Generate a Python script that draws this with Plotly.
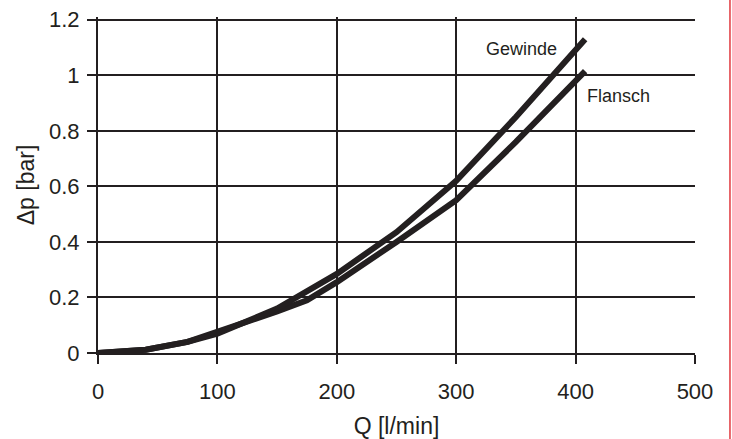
import plotly.graph_objects as go

gewinde_q = [0, 40, 75, 100, 150, 200, 250, 300, 350, 408]
gewinde_dp = [0, 0.012, 0.04, 0.07, 0.16, 0.285, 0.435, 0.62, 0.85, 1.13]
flansch_q = [0, 40, 75, 110, 150, 175, 200, 250, 280, 300, 350, 408]
flansch_dp = [0, 0.012, 0.04, 0.09, 0.15, 0.19, 0.255, 0.40, 0.49, 0.55, 0.76, 1.015]

x_ticks = [0, 100, 200, 300, 400, 500]
y_ticks = [0, 0.2, 0.4, 0.6, 0.8, 1, 1.2]
y_ticklabels = ["0", "0.2", "0.4", "0.6", "0.8", "1", "1.2"]

ink = "#231f20"
font = "Liberation Sans, Arial, sans-serif"

FW, FH = 732, 439
Y_TOP = 1.21
PX_PER_UNIT = 277.5
L, W = 98, 597.5
B = 86
H = Y_TOP * PX_PER_UNIT
T = FH - B - H

fig = go.Figure()
fig.add_trace(go.Scatter(x=flansch_q, y=flansch_dp, mode="lines", name="Flansch",
                         line=dict(color=ink, width=6)))
fig.add_trace(go.Scatter(x=gewinde_q, y=gewinde_dp, mode="lines", name="Gewinde",
                         line=dict(color=ink, width=6)))

fig.add_annotation(x=355, y=1.093, text="Gewinde", showarrow=False,
                   font=dict(family=font, size=18, color=ink), xanchor="center", yanchor="middle")
fig.add_annotation(x=407.5, y=0.927, text="Flansch", showarrow=False,
                   font=dict(family=font, size=18, color=ink), xanchor="left", yanchor="middle")

xr = (730.5 - L) / W
fig.add_shape(type="line", xref="paper", yref="paper",
              x0=xr, x1=xr, y0=-0.5, y1=1.5,
              line=dict(color="#e0393e", width=1.5), layer="above")

fig.update_layout(
    width=FW, height=FH,
    margin=dict(l=L, r=FW - L - W, t=T, b=B, autoexpand=False),
    paper_bgcolor="white", plot_bgcolor="white",
    showlegend=False,
    font=dict(family=font, color=ink, size=22),
)
fig.update_xaxes(range=[0, 500.01], tickvals=x_ticks, ticks="outside", ticklen=9, tickwidth=2,
                 tickcolor=ink, showgrid=True, gridcolor=ink, gridwidth=2, showline=True,
                 linecolor=ink, linewidth=2, zeroline=False, ticklabelstandoff=9,
                 automargin=False,
                 title=dict(text="Q [l/min]", font=dict(size=23), standoff=14),
                 tickfont=dict(size=22))
fig.update_yaxes(range=[0, Y_TOP], tickvals=y_ticks, ticktext=y_ticklabels, ticks="outside",
                 ticklen=9, tickwidth=2, tickcolor=ink, showgrid=True, gridcolor=ink, gridwidth=2,
                 showline=True, linecolor=ink, linewidth=2, zeroline=False, ticklabelstandoff=3,
                 automargin=False,
                 title=dict(text="Δp [bar]", font=dict(size=23), standoff=8),
                 tickfont=dict(size=22))

fig.write_html("out.html", config={"displayModeBar": False},
               post_script="document.body.style.margin='0';document.body.style.overflow='hidden';")
